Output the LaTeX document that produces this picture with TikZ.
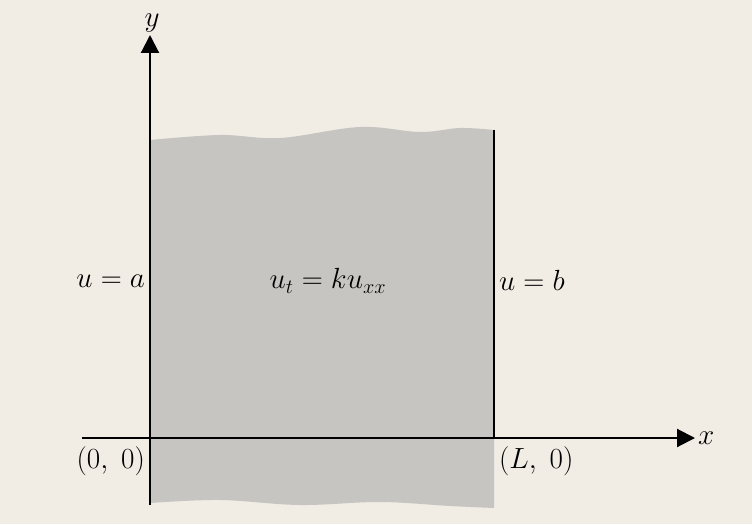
\documentclass[tikz,border=0pt]{standalone}
\usepackage{amsmath}
\usepackage{xcolor}
\usepackage{tikz}
\usetikzlibrary{arrows.meta, positioning, calc}

\definecolor{paper}{RGB}{241,237,229}
\definecolor{slab}{RGB}{198,197,194}

\begin{document}
\begin{tikzpicture}[
    axis/.style={line width=1.5pt, -{Triangle[length=4.5mm, width=4.5mm]}},
    edge/.style={line width=1.5pt},
    lbl/.style={font=\fontsize{21}{24}\selectfont, inner sep=2pt}
  ]

    % Paper
    \fill[paper] (-3.75,-2.15) rectangle (15.05,10.95);
    \useasboundingbox (-3.75,-2.15) rectangle (15.05,10.95);

    % Shaded region
    \fill[slab] plot[smooth, tension=0.6] coordinates {(0,7.45) (1.75,7.575) (3.25,7.5) (5.25,7.775) (6.75,7.65) (7.75,7.75) (8.6,7.7)}
      -- plot[smooth, tension=0.6] coordinates {(8.6,-1.75) (7.5,-1.7) (5.75,-1.6) (3.75,-1.675) (1.75,-1.55) (0,-1.625)} -- cycle;

    % Points
    \coordinate (O) at (0,0);
    \coordinate (xstart) at (-1.7,0);
    \coordinate (xend) at (13.625,0);
    \coordinate (ystart) at (0,-1.675);
    \coordinate (yend) at (0,10.075);
    \coordinate (Ltop) at (8.6,7.7);
    \coordinate (L) at (8.6,0);

    % Axes
    \draw[axis] (xstart) -- (xend);
    \draw[axis] (ystart) -- (yend);
    \draw[edge] (Ltop) -- (L);

    % Labels
    \node[lbl, anchor=west] (xlbl) at (xend) {$x$};
    \node[lbl, anchor=south] (ylbl) at ($(yend)+(0.05,0)$) {$y$};
    \node[lbl, anchor=east] (left) at (-0.05,3.93) {$u = a$};
    \node[lbl] (pde) at (4.45,3.93) {$u_t = ku_{xx}$};
    \node[lbl, anchor=west] (right) at (8.65,3.93) {$u = b$};
    \node[lbl, anchor=north east] (orig) at (-0.05,-0.15) {$(0,\;0)$};
    \node[lbl, anchor=north west] (Lpt) at (8.65,-0.15) {$(L,\;0)$};

  \end{tikzpicture}
\end{document}
